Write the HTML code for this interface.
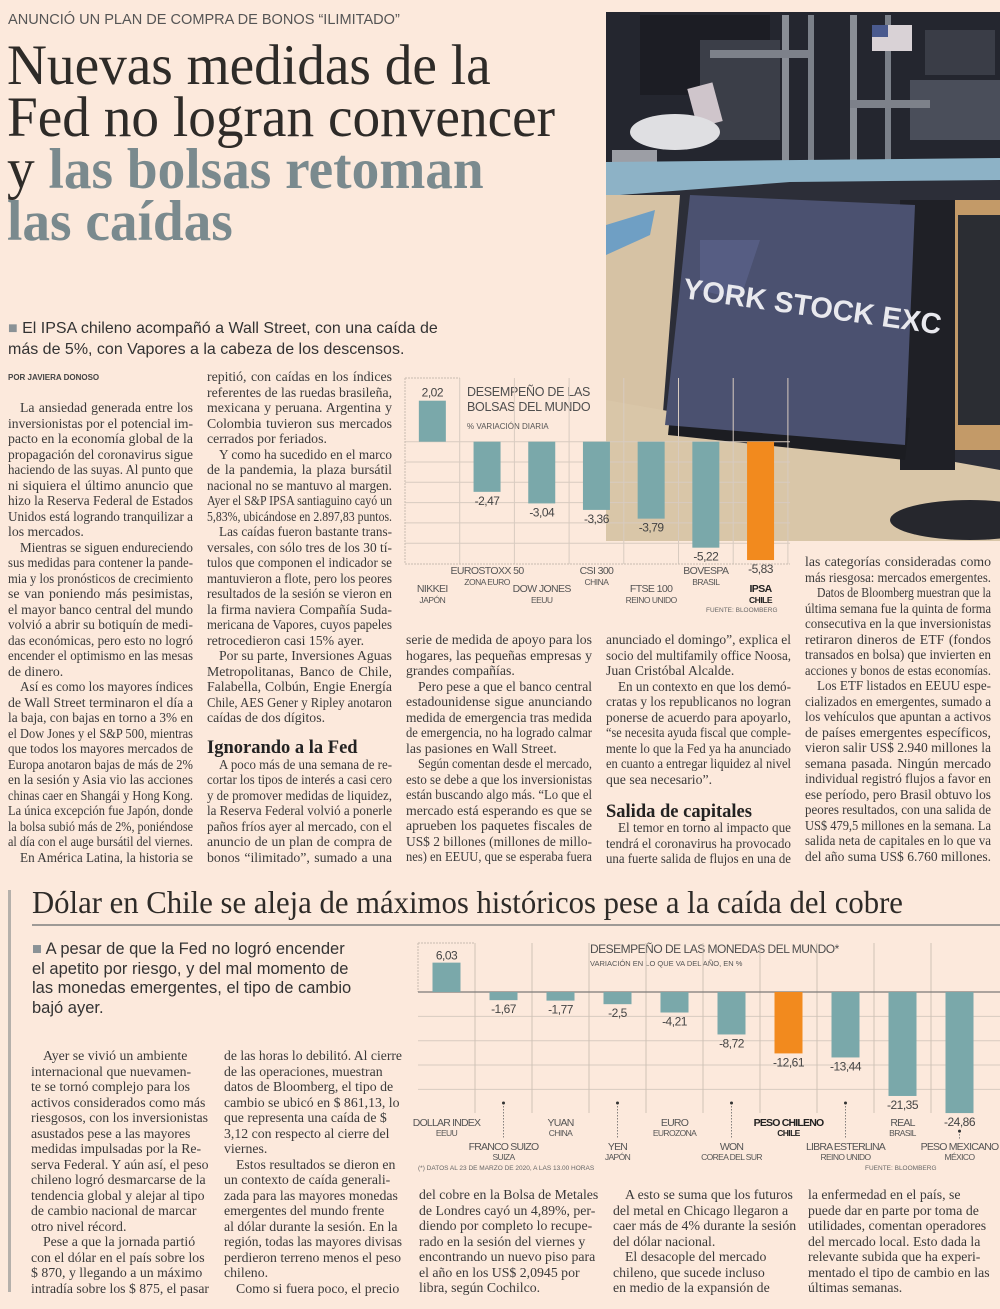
<!DOCTYPE html>
<html><head><meta charset="utf-8">
<style>
*{margin:0;padding:0;box-sizing:border-box}
body{width:1000px;height:1309px;background:#fce9dc;position:relative;overflow:hidden;font-family:"Liberation Serif",serif;color:#333}
.abs{position:absolute}
.col{position:absolute;font:13.8px/15.5px "Liberation Serif",serif;color:#3a3a3a}
.col span.l{display:block;height:15.5px;white-space:nowrap;overflow:visible}
.col span.i{padding-left:12px}
.col h3{font:bold 18.5px/15.5px "Liberation Serif",serif;color:#222;height:15.5px;margin-top:2px;white-space:nowrap}
.sans{font-family:"Liberation Sans",sans-serif}
</style></head><body>

<div class="abs sans" style="left:8px;top:11px;font-size:15px;color:#555;transform:scaleX(0.97);transform-origin:0 0;white-space:nowrap">ANUNCIÓ UN PLAN DE COMPRA DE BONOS “ILIMITADO”</div>
<div class="abs" style="left:7px;top:40px;font:57px/52px 'Liberation Serif',serif;color:#2e2b28;white-space:nowrap;transform:scaleX(0.97);transform-origin:0 0">Nuevas medidas de la<br>Fed no logran convencer<br>y <b style="color:#7a8a8e">las bolsas retoman</b><br><b style="color:#7a8a8e">las caídas</b></div>

<div class="abs sans" style="left:8px;top:318px;font-size:16px;line-height:21px;color:#333;white-space:nowrap"><span style="color:#8a9296">■</span> El IPSA chileno acompañó a Wall Street, con una caída de<br>más de 5%, con Vapores a la cabeza de los descensos.</div>
<div class="abs sans" style="left:8px;top:373px;font-size:8px;font-weight:bold;color:#444">POR JAVIERA DONOSO</div>

<!-- photo -->
<svg class="abs" style="left:0;top:0" width="1000" height="1309">
<rect x="606" y="12" width="394" height="529" fill="#2c2e38"/>
<rect x="606" y="12" width="394" height="150" fill="#24262f"/>
<rect x="640" y="15" width="130" height="80" fill="#1c1d24"/>
<rect x="700" y="40" width="80" height="100" fill="#3b3e48"/>
<rect x="925" y="30" width="70" height="45" fill="#3a3d47"/>
<rect x="910" y="80" width="90" height="60" fill="#4a4e5a"/>
<rect x="782" y="15" width="7" height="150" fill="#8a8e96"/>
<rect x="808" y="15" width="6" height="150" fill="#7b8089"/>
<rect x="850" y="15" width="7" height="150" fill="#8a8e96"/>
<rect x="885" y="15" width="6" height="150" fill="#7b8089"/>
<rect x="710" y="50" width="100" height="8" fill="#7d818a"/>
<rect x="850" y="100" width="80" height="8" fill="#7d818a"/>
<rect x="872" y="25" width="40" height="26" fill="#d9d2d6"/>
<rect x="872" y="25" width="16" height="12" fill="#4a5a8e"/>
<rect x="692" y="85" width="26" height="40" fill="#cfc5cb" transform="rotate(-15 705 105)"/>
<ellipse cx="675" cy="132" rx="45" ry="18" fill="#dfdfe2"/>
<rect x="612" y="150" width="45" height="35" fill="#9c9ea5"/>
<polygon points="606,162 1000,158 1000,180 790,182 620,195 606,195" fill="#8db2c6"/>
<polygon points="606,195 680,195 660,450 606,541" fill="#d6c2a4"/>
<polygon points="606,400 1000,470 1000,541 606,541" fill="#d9c6a8"/>
<polygon points="606,225 655,210 650,235 606,255" fill="#6f9fc4"/>
<rect x="950" y="200" width="50" height="250" fill="#c39a68"/>
<rect x="958" y="215" width="42" height="210" fill="#2b2d33"/>
<rect x="900" y="200" width="55" height="270" fill="#1f2026"/>
<polygon points="672,395 910,418 905,460 668,435" fill="#1c1d22"/>
<polygon points="690,195 915,205 905,445 665,425" fill="#4b5170"/>
<polygon points="700,240 760,240 740,300 700,290" fill="#5d6690" opacity="0.6"/>
<text x="682" y="298" transform="rotate(8 682 298)" font-family="Liberation Sans" font-size="29" font-weight="bold" fill="#e9e9ee">YORK STOCK EXC</text>
<ellipse cx="970" cy="520" rx="80" ry="20" fill="#26272d"/>
</svg>

<!-- chart 1 -->
<svg class="abs" style="left:0;top:0" width="1000" height="1309" id="chart1">
<text x="467" y="396" font-family="Liberation Sans" font-size="12.5" fill="#4e4e4e" letter-spacing="-0.3">DESEMPEÑO DE LAS</text>
<text x="467" y="411" font-family="Liberation Sans" font-size="12.5" fill="#4e4e4e" letter-spacing="-0.3">BOLSAS DEL MUNDO</text>
<text x="467" y="429" font-family="Liberation Sans" font-size="8" fill="#555">% VARIACIÓN DIARIA</text>
<text x="706" y="612" font-family="Liberation Sans" font-size="6.5" fill="#666">FUENTE: BLOOMBERG</text>
</svg>

<!-- chart 2 -->
<svg class="abs" style="left:0;top:0" width="1000" height="1309" id="chart2">
<text x="590" y="953" font-family="Liberation Sans" font-size="12" fill="#4e4e4e" letter-spacing="-0.5">DESEMPEÑO DE LAS MONEDAS DEL MUNDO*</text>
<text x="590" y="966" font-family="Liberation Sans" font-size="7.5" fill="#555">VARIACIÓN EN LO QUE VA DEL AÑO, EN %</text>
<text x="418" y="1170" font-family="Liberation Sans" font-size="6.5" fill="#666">(*) DATOS AL 23 DE MARZO DE 2020, A LAS 13.00 HORAS</text>
<text x="865" y="1170" font-family="Liberation Sans" font-size="6.5" fill="#666">FUENTE: BLOOMBERG</text>
</svg>

<!-- top body columns -->
<div class="col j" style="left:8px;top:400px;width:185px">
<span class="l i">La ansiedad generada entre los</span>
<span class="l">inversionistas por el potencial im-</span>
<span class="l">pacto en la economía global de la</span>
<span class="l">propagación del coronavirus sigue</span>
<span class="l">haciendo de las suyas. Al punto que</span>
<span class="l">ni siquiera el último anuncio que</span>
<span class="l">hizo la Reserva Federal de Estados</span>
<span class="l">Unidos está logrando tranquilizar a</span>
<span class="l e">los mercados.</span>
<span class="l i">Mientras se siguen endureciendo</span>
<span class="l">sus medidas para contener la pande-</span>
<span class="l">mia y los pronósticos de crecimiento</span>
<span class="l">se van poniendo más pesimistas,</span>
<span class="l">el mayor banco central del mundo</span>
<span class="l">volvió a abrir su botiquín de medi-</span>
<span class="l">das económicas, pero esto no logró</span>
<span class="l">encender el optimismo en las mesas</span>
<span class="l e">de dinero.</span>
<span class="l i">Así es como los mayores índices</span>
<span class="l">de Wall Street terminaron el día a</span>
<span class="l">la baja, con bajas en torno a 3% en</span>
<span class="l">el Dow Jones y el S&amp;P 500, mientras</span>
<span class="l">que todos los mayores mercados de</span>
<span class="l">Europa anotaron bajas de más de 2%</span>
<span class="l">en la sesión y Asia vio las acciones</span>
<span class="l">chinas caer en Shangái y Hong Kong.</span>
<span class="l">La única excepción fue Japón, donde</span>
<span class="l">la bolsa subió más de 2%, poniéndose</span>
<span class="l">al día con el auge bursátil del viernes.</span>
<span class="l i">En América Latina, la historia se</span>
</div>

<div class="col j" style="left:207px;top:369px;width:185px">
<span class="l">repitió, con caídas en los índices</span>
<span class="l">referentes de las ruedas brasileña,</span>
<span class="l">mexicana y peruana. Argentina y</span>
<span class="l">Colombia tuvieron sus mercados</span>
<span class="l e">cerrados por feriados.</span>
<span class="l i">Y como ha sucedido en el marco</span>
<span class="l">de la pandemia, la plaza bursátil</span>
<span class="l">nacional no se mantuvo al margen.</span>
<span class="l">Ayer el S&amp;P IPSA santiaguino cayó un</span>
<span class="l">5,83%, ubicándose en 2.897,83 puntos.</span>
<span class="l i">Las caídas fueron bastante trans-</span>
<span class="l">versales, con sólo tres de los 30 tí-</span>
<span class="l">tulos que componen el indicador se</span>
<span class="l">mantuvieron a flote, pero los peores</span>
<span class="l">resultados de la sesión se vieron en</span>
<span class="l">la firma naviera Compañía Suda-</span>
<span class="l">mericana de Vapores, cuyos papeles</span>
<span class="l e">retrocedieron casi 15% ayer.</span>
<span class="l i">Por su parte, Inversiones Aguas</span>
<span class="l">Metropolitanas, Banco de Chile,</span>
<span class="l">Falabella, Colbún, Engie Energía</span>
<span class="l">Chile, AES Gener y Ripley anotaron</span>
<span class="l e">caídas de dos dígitos.</span>
<span class="l e">&nbsp;</span>
<h3 style="margin-top:0">Ignorando a la Fed</h3>
<span class="l i">A poco más de una semana de re-</span>
<span class="l">cortar los tipos de interés a casi cero</span>
<span class="l">y de promover medidas de liquidez,</span>
<span class="l">la Reserva Federal volvió a ponerle</span>
<span class="l">paños fríos ayer al mercado, con el</span>
<span class="l">anuncio de un plan de compra de</span>
<span class="l">bonos “ilimitado”, sumado a una</span>
</div>

<div class="col j" style="left:406px;top:632px;width:186px">
<span class="l">serie de medida de apoyo para los</span>
<span class="l">hogares, las pequeñas empresas y</span>
<span class="l e">grandes compañías.</span>
<span class="l i">Pero pese a que el banco central</span>
<span class="l">estadounidense sigue anunciando</span>
<span class="l">medida de emergencia tras medida</span>
<span class="l">de emergencia, no ha logrado calmar</span>
<span class="l e">las pasiones en Wall Street.</span>
<span class="l i">Según comentan desde el mercado,</span>
<span class="l">esto se debe a que los inversionistas</span>
<span class="l">están buscando algo más. “Lo que el</span>
<span class="l">mercado está esperando es que se</span>
<span class="l">aprueben los paquetes fiscales de</span>
<span class="l">US$ 2 billones (millones de millo-</span>
<span class="l">nes) en EEUU, que se esperaba fuera</span>
</div>

<div class="col j" style="left:606px;top:632px;width:185px">
<span class="l">anunciado el domingo”, explica el</span>
<span class="l">socio del multifamily office Noosa,</span>
<span class="l e">Juan Cristóbal Alcalde.</span>
<span class="l i">En un contexto en que los demó-</span>
<span class="l">cratas y los republicanos no logran</span>
<span class="l">ponerse de acuerdo para apoyarlo,</span>
<span class="l">“se necesita ayuda fiscal que comple-</span>
<span class="l">mente lo que la Fed ya ha anunciado</span>
<span class="l">en cuanto a entregar liquidez al nivel</span>
<span class="l e">que sea necesario”.</span>
<span class="l e">&nbsp;</span>
<h3>Salida de capitales</h3>
<span class="l i">El temor en torno al impacto que</span>
<span class="l">tendrá el coronavirus ha provocado</span>
<span class="l">una fuerte salida de flujos en una de</span>
</div>

<div class="col j" style="left:805px;top:554px;width:186px">
<span class="l">las categorías consideradas como</span>
<span class="l e">más riesgosa: mercados emergentes.</span>
<span class="l i">Datos de Bloomberg muestran que la</span>
<span class="l">última semana fue la quinta de forma</span>
<span class="l">consecutiva en la que inversionistas</span>
<span class="l">retiraron dineros de ETF (fondos</span>
<span class="l">transados en bolsa) que invierten en</span>
<span class="l e">acciones y bonos de estas economías.</span>
<span class="l i">Los ETF listados en EEUU espe-</span>
<span class="l">cializados en emergentes, sumado a</span>
<span class="l">los vehículos que apuntan a activos</span>
<span class="l">de países emergentes específicos,</span>
<span class="l">vieron salir US$ 2.940 millones la</span>
<span class="l">semana pasada. Ningún mercado</span>
<span class="l">individual registró flujos a favor en</span>
<span class="l">ese período, pero Brasil obtuvo los</span>
<span class="l">peores resultados, con una salida de</span>
<span class="l">US$ 479,5 millones en la semana. La</span>
<span class="l">salida neta de capitales en lo que va</span>
<span class="l e">del año suma US$ 6.760 millones.</span>
</div>

<!-- bottom section -->
<div class="abs" style="left:8px;top:890px;width:3px;height:402px;background:#b5b0ab"></div>
<div class="abs" style="left:32px;top:883px;font:32px/38px 'Liberation Serif',serif;color:#2e2b28;white-space:nowrap;transform:scaleX(0.96);transform-origin:0 0">Dólar en Chile se aleja de máximos históricos pese a la caída del cobre</div>
<div class="abs" style="left:32px;top:924px;width:968px;height:2px;background:#9e9a96"></div>
<div class="abs sans" style="left:32px;top:940px;font-size:16.5px;line-height:19.5px;color:#333;white-space:nowrap"><span style="color:#8a9296">■</span> A pesar de que la Fed no logró encender<br>el apetito por riesgo, y del mal momento de<br>las monedas emergentes, el tipo de cambio<br>bajó ayer.</div>

<div class="col r" style="left:31px;top:1048px;width:178px">
<span class="l i">Ayer se vivió un ambiente</span>
<span class="l">internacional que nuevamen-</span>
<span class="l">te se tornó complejo para los</span>
<span class="l">activos considerados como más</span>
<span class="l">riesgosos, con los inversionistas</span>
<span class="l">asustados pese a las mayores</span>
<span class="l">medidas impulsadas por la Re-</span>
<span class="l">serva Federal. Y aún así, el peso</span>
<span class="l">chileno logró desmarcarse de la</span>
<span class="l">tendencia global y alejar al tipo</span>
<span class="l">de cambio nacional de marcar</span>
<span class="l">otro nivel récord.</span>
<span class="l i">Pese a que la jornada partió</span>
<span class="l">con el dólar en el país sobre los</span>
<span class="l">$ 870, y llegando a un máximo</span>
<span class="l">intradía sobre los $ 875, el pasar</span>
</div>
<div class="col r" style="left:224px;top:1048px;width:178px">
<span class="l">de las horas lo debilitó. Al cierre</span>
<span class="l">de las operaciones, muestran</span>
<span class="l">datos de Bloomberg, el tipo de</span>
<span class="l">cambio se ubicó en $ 861,13, lo</span>
<span class="l">que representa una caída de $</span>
<span class="l">3,12 con respecto al cierre del</span>
<span class="l">viernes.</span>
<span class="l i">Estos resultados se dieron en</span>
<span class="l">un contexto de caída generali-</span>
<span class="l">zada para las mayores monedas</span>
<span class="l">emergentes del mundo frente</span>
<span class="l">al dólar durante la sesión. En la</span>
<span class="l">región, todas las mayores divisas</span>
<span class="l">perdieron terreno menos el peso</span>
<span class="l">chileno.</span>
<span class="l i">Como si fuera poco, el precio</span>
</div>
<div class="col r" style="left:419px;top:1187px;width:185px">
<span class="l">del cobre en la Bolsa de Metales</span>
<span class="l">de Londres cayó un 4,89%, per-</span>
<span class="l">diendo por completo lo recupe-</span>
<span class="l">rado en la sesión del viernes y</span>
<span class="l">encontrando un nuevo piso para</span>
<span class="l">el año en los US$ 2,0945 por</span>
<span class="l">libra, según Cochilco.</span>
</div>
<div class="col r" style="left:613px;top:1187px;width:185px">
<span class="l i">A esto se suma que los futuros</span>
<span class="l">del metal en Chicago llegaron a</span>
<span class="l">caer más de 4% durante la sesión</span>
<span class="l">del dólar nacional.</span>
<span class="l i">El desacople del mercado</span>
<span class="l">chileno, que sucede incluso</span>
<span class="l">en medio de la expansión de</span>
</div>
<div class="col r" style="left:808px;top:1187px;width:185px">
<span class="l">la enfermedad en el país, se</span>
<span class="l">puede dar en parte por toma de</span>
<span class="l">utilidades, comentan operadores</span>
<span class="l">del mercado local. Esto dada la</span>
<span class="l">relevante subida que ha experi-</span>
<span class="l">mentado el tipo de cambio en las</span>
<span class="l">últimas semanas.</span>
</div>

<script>
// fit & justify text lines
document.querySelectorAll('.col').forEach(col=>{
  const W=col.clientWidth;
  const just=col.classList.contains('j');
  col.querySelectorAll('span.l').forEach(sp=>{
    const txt=sp.textContent;
    if(!txt.trim())return;
    const inner=document.createElement('span');
    
    
    inner.style.display='inline-block';
    inner.style.transformOrigin='0 0';
    inner.textContent=txt;
    sp.textContent='';
    sp.appendChild(inner);
    const avail=W-(sp.classList.contains('i')?12:0);
    const w=inner.getBoundingClientRect().width;
    if(w>avail){inner.style.transform='scaleX('+(avail/w)+')';}
    else if(just&&!sp.classList.contains('e')){
      const n=(txt.match(/ /g)||[]).length;
      if(n>0)inner.style.wordSpacing=((avail-w)/n)+'px';
    }
  });
});

const NS='http://www.w3.org/2000/svg';
// ---- chart 1 data ----
const stockCats=['NIKKEI','EUROSTOXX 50','DOW JONES','CSI 300','FTSE 100','BOVESPA','IPSA'];
const stockSubs=['JAPÓN','ZONA EURO','EEUU','CHINA','REINO UNIDO','BRASIL','CHILE'];
const stockVals=[2.02,-2.47,-3.04,-3.36,-3.79,-5.22,-5.83];
const stockLabels=['2,02','-2,47','-3,04','-3,36','-3,79','-5,22','-5,83'];
const stockGrid=[0,-1,-2,-3,-4,-5];
// ---- chart 2 data ----
const curCats=['DOLLAR INDEX','FRANCO SUIZO','YUAN','YEN','EURO','WON','PESO CHILENO','LIBRA ESTERLINA','REAL','PESO MEXICANO'];
const curSubs=['EEUU','SUIZA','CHINA','JAPÓN','EUROZONA','COREA DEL SUR','CHILE','REINO UNIDO','BRASIL','MÉXICO'];
const curVals=[6.03,-1.67,-1.77,-2.5,-4.21,-8.72,-12.61,-13.44,-21.35,-24.86];
const curLabels=['6,03','-1,67','-1,77','-2,5','-4,21','-8,72','-12,61','-13,44','-21,35','-24,86'];
const curGrid=[-5,-10,-15,-20];

function mk(svg,tag,attrs){const e=document.createElementNS(NS,tag);for(const k in attrs)e.setAttribute(k,attrs[k]);svg.appendChild(e);return e;}
const TEAL='#7aa8aa',ORANGE='#f28a1e',GRID='#d8cbc0';

// chart 1
const c1=document.getElementById('chart1');
const y1=v=>441.7-v*20.3;
const x1=i=>405+54.7*(i+0.5);
const c1L=405,c1R=790,c1T=378,c1B=564;
stockGrid.forEach(g=>{const l=mk(c1,'line',{x1:c1L,x2:c1R,y1:y1(g),y2:y1(g),stroke:GRID,'stroke-width':1});

});
for(let i=0;i<stockCats.length;i++){const xx=c1L+54.7*(i+1);const l=mk(c1,'line',{x1:xx,x2:xx,y1:c1T,y2:c1B,stroke:GRID,'stroke-width':1});

}
const b1=mk(c1,'path',{d:`M${c1L} ${c1B}H${c1R}M${c1L} ${c1T}V${c1B}M${c1L} ${c1T}H${c1L+54.7}`,stroke:'#c9bcb0','stroke-width':1,'stroke-dasharray':'2 1',fill:'none'});


stockVals.forEach((v,i)=>{
  const top=Math.min(y1(v),y1(0)),h=Math.abs(y1(v)-y1(0));
  const r=mk(c1,'rect',{x:x1(i)-13.5,y:top,width:27,height:h,fill:i===stockVals.length-1?ORANGE:TEAL});
  
  
  const ly=v>=0?y1(v)-4:y1(v)+13;
  const t=mk(c1,'text',{x:x1(i),y:ly,'text-anchor':'middle','font-family':'Liberation Sans','font-size':12,fill:'#444','letter-spacing':'-0.5'});
  t.textContent=stockLabels[i];
  
  
  const base=i%2===0?592:574;
  const bold=i===stockVals.length-1;
  const c=mk(c1,'text',{x:x1(i),y:base,'text-anchor':'middle','font-family':'Liberation Sans','font-size':10.5,fill:bold?'#222':'#555','font-weight':bold?'bold':'normal','letter-spacing':'-0.6'});
  c.textContent=stockCats[i];
  
  
  const s=mk(c1,'text',{x:x1(i),y:base+11,'text-anchor':'middle','font-family':'Liberation Sans','font-size':8.5,fill:bold?'#222':'#555','font-weight':bold?'bold':'normal','letter-spacing':'-0.5'});
  s.textContent=stockSubs[i];
  
  
});

// chart 2
const c2=document.getElementById('chart2');
const y2=v=>992-v*4.87;
const x2=i=>446.5+57*i;
const c2L=418,c2R=1000,c2T=943,c2B=1113;
curGrid.forEach(g=>{const l=mk(c2,'line',{x1:c2L,x2:c2R,y1:y2(g),y2:y2(g),stroke:GRID,'stroke-width':1});

});
for(let i=0;i<curCats.length-1;i++){const xx=c2L+57*(i+1);const l=mk(c2,'line',{x1:xx,x2:xx,y1:c2T,y2:c2B,stroke:'#cfc2b6','stroke-width':1});

}
const b2=mk(c2,'path',{d:`M${c2L} ${c2T}V${y2(0)}M${c2L} ${c2T}H${c2L+57}`,stroke:'#c9bcb0','stroke-width':1,'stroke-dasharray':'2 1',fill:'none'});


const z2=mk(c2,'line',{x1:c2L,x2:c2R,y1:y2(0),y2:y2(0),stroke:'#7d7a77','stroke-width':1.2});


curVals.forEach((v,i)=>{
  const top=Math.min(y2(v),y2(0)),h=Math.abs(y2(v)-y2(0));
  const chile=curCats[i]==='PESO CHILENO';
  const r=mk(c2,'rect',{x:x2(i)-14,y:top,width:28,height:h,fill:chile?ORANGE:TEAL});
  
  
  const ly=v>=0?y2(v)-3:y2(v)+13;
  const t=mk(c2,'text',{x:x2(i),y:ly,'text-anchor':'middle','font-family':'Liberation Sans','font-size':12,fill:'#444','letter-spacing':'-0.5'});
  t.textContent=curLabels[i];
  
  
  const odd=i%2===1;
  const base=odd?1150:1126;
  if(odd){
    const lt=Math.max(1103,y2(v)+18);
    const d=mk(c2,'line',{x1:x2(i),x2:x2(i),y1:lt,y2:1139,stroke:'#666','stroke-width':0.8,'stroke-dasharray':'1.5 1.5'});
    
    
    const dot=mk(c2,'circle',{cx:x2(i),cy:lt,r:1.5,fill:'#333'});
    
    
  }
  const c=mk(c2,'text',{x:x2(i),y:base,'text-anchor':'middle','font-family':'Liberation Sans','font-size':10.5,fill:chile?'#222':'#555','font-weight':chile?'bold':'normal','letter-spacing':'-0.8'});
  c.textContent=curCats[i];
  
  
  const s=mk(c2,'text',{x:x2(i),y:base+10,'text-anchor':'middle','font-family':'Liberation Sans','font-size':8.5,fill:chile?'#222':'#555','font-weight':chile?'bold':'normal','letter-spacing':'-0.6'});
  s.textContent=curSubs[i];
  
  
});
</script>
</body></html>
